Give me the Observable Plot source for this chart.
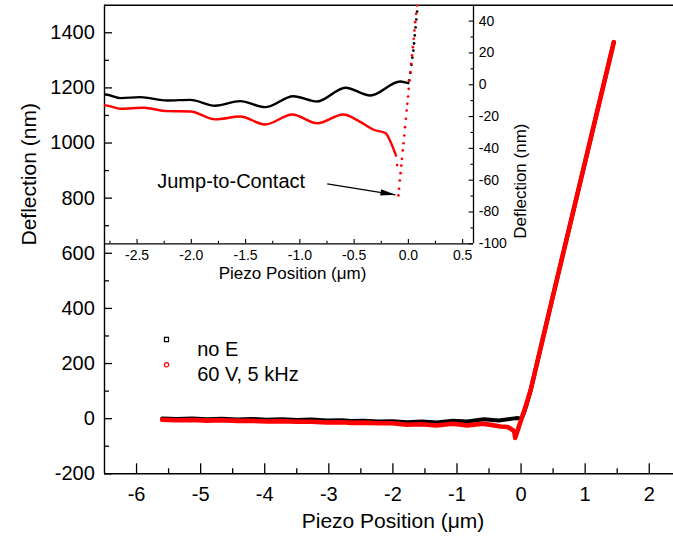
<!DOCTYPE html>
<html>
<head>
<meta charset="utf-8">
<script src="https://cdn.jsdelivr.net/npm/d3@7"></script>
<script src="https://cdn.jsdelivr.net/npm/@observablehq/plot@0.6"></script>
<style>
  html, body { margin: 0; padding: 0; background: #fff; }
  #chart { position: relative; width: 673px; height: 546px; }
  #chart svg { position: absolute; left: 0; top: 0; }
</style>
</head>
<body>
<div id="chart"></div>
<script>
// Force curves: cantilever deflection (nm) vs piezo position (µm)

// "no E" — approach branch
const blackApproachX = [-5.6, -5.37, -5.13, -4.9, -4.67, -4.43, -4.2, -3.97, -3.73, -3.5, -3.27, -3.03,
  -2.79, -2.65, -2.47, -2.22, -2.01, -1.78, -1.55, -1.32, -1.06, -0.84, -0.58, -0.35, -0.076, 0];
const blackApproachY = [1, -1, 1, -2, 0, -3, -1, -4, -2, -5, -3, -7,
  -6.1, -8.4, -7.8, -9.9, -9.5, -13.2, -10.3, -14.1, -7.2, -10.5, -1.9, -6.8, 2.0, 1.0];
// "no E" — contact branch
const blackContactX = [0.006, 0.017, 0.028, 0.037, 0.046, 0.052, 0.059, 0.066, 0.073, 0.080, 0.15, 0.487, 1.447];
const blackContactY = [2.7, 7.5, 12.5, 17, 21.5, 26, 31, 36, 41, 46, 104, 435, 1366];

// "60 V, 5 kHz" — approach branch
const redApproachX = [-5.6, -5.37, -5.13, -4.9, -4.67, -4.43, -4.2, -3.97, -3.73, -3.5, -3.27, -3.03,
  -2.79, -2.65, -2.44, -2.22, -2.01, -1.78, -1.55, -1.32, -1.07, -0.84, -0.60, -0.44, -0.32, -0.21, -0.17, -0.12];
const redApproachY = [-4, -6, -5, -7, -6, -8, -8, -10, -9, -11, -11, -14,
  -13, -15.1, -14.5, -16.6, -16.8, -21.8, -20, -25, -18.7, -24.2, -18.7, -23.5, -28.3, -30.4, -35, -43.4];
// "60 V, 5 kHz" — jump-to-contact samples
const redJumpX = [-0.114, -0.104];
const redJumpY = [-44.5, -50.5];
// "60 V, 5 kHz" — contact branch
const redContactX = [-0.092, -0.086, -0.079, -0.072, -0.065, -0.059, -0.052, -0.045, -0.038, -0.031, -0.023,
  -0.016, -0.010, -0.003, 0.003, 0.011, 0.019, 0.026, 0.034, 0.041, 0.049, 0.056, 0.063, 0.071, 0.079,
  0.15, 0.487, 1.447];
const redContactY = [-69.6, -65.4, -60.2, -55.6, -50.8, -46.6, -41.3, -36.8, -31.9, -26.7, -21.4,
  -16.2, -12.0, -7.4, -2.6, 2.7, 7.9, 13.2, 18.4, 23.6, 28.9, 34.1, 39.3, 44.6, 49.8,
  104, 435, 1366];

// Tick values
const xMajor = [-6, -5, -4, -3, -2, -1, 0, 1, 2];
const xMinor = [-5.5, -4.5, -3.5, -2.5, -1.5, -0.5, 0.5, 1.5];
const yMajor = [-200, 0, 200, 400, 600, 800, 1000, 1200, 1400];
const yMinor = [-100, 100, 300, 500, 700, 900, 1100, 1300];
const insetXMajor = [-2.5, -2.0, -1.5, -1.0, -0.5, 0.0, 0.5];
const insetXMinor = [-2.75, -2.25, -1.75, -1.25, -0.75, -0.25, 0.25];
const insetYMajor = [-100, -80, -60, -40, -20, 0, 20, 40];
const insetYMinor = [-90, -70, -50, -30, -10, 10, 30];

const seriesNames = ["no E", "60 V, 5 kHz"];
const seriesColors = ["#000000", "#ff0000"];

const pts = (xs, ys) => xs.map((x, i) => ({x, y: ys[i]}));
const blackApproach = pts(blackApproachX, blackApproachY);
const blackContact = pts(blackContactX, blackContactY);
const redApproach = pts(redApproachX, redApproachY);
const redJump = pts(redJumpX, redJumpY);
const redContact = pts(redContactX, redContactY);

const blackFull = blackApproach.concat(blackContact);
const redFull = redApproach.concat(redJump, redContact);

const font = "'Liberation Sans', Arial, Helvetica, sans-serif";
const W = 673, H = 546;

// Main frame
const mL = 104, mR = 0, mT = 4.7, mB = 72.7;
const fW = W - mL - mR, fH = H - mT - mB;

const lineStyle = {strokeLinejoin: "round", strokeLinecap: "round"};

const main = Plot.plot({
  width: W, height: H,
  marginLeft: mL, marginRight: mR, marginTop: mT, marginBottom: mB,
  x: {domain: [-6.5, 2.5], range: [104, 680.8], axis: null},
  y: {domain: [-200, 1500], range: [H - mB, mT], axis: null},
  style: {fontFamily: font, background: "transparent", overflow: "visible"},
  marks: [
    Plot.line(blackFull, {x: "x", y: "y", stroke: seriesColors[0], strokeWidth: 4, ...lineStyle}),
    Plot.line(redFull, {x: "x", y: "y", stroke: seriesColors[1], strokeWidth: 4.6, ...lineStyle}),

    // frame
    Plot.ruleY([-200], {strokeWidth: 1.4}),
    Plot.ruleY([1500], {strokeWidth: 1.4}),
    Plot.ruleX([-6.5], {strokeWidth: 1.4}),

    // ticks (inward)
    Plot.tickX(xMajor, {x: d => d, insetTop: fH - 10, strokeWidth: 1.3}),
    Plot.tickX(xMinor, {x: d => d, insetTop: fH - 5, strokeWidth: 1.3}),
    Plot.tickY(yMajor, {y: d => d, insetRight: fW - 8, strokeWidth: 1.3}),
    Plot.tickY(yMinor, {y: d => d, insetRight: fW - 5, strokeWidth: 1.3}),

    // tick labels
    Plot.text(xMajor, {x: d => d, y: -200, dy: 21.2, text: d => String(d), fontSize: 20, fill: "black"}),
    Plot.text(yMajor, {x: -6.5, y: d => d, dx: -9.7, textAnchor: "end", text: d => String(d), fontSize: 20, fill: "black"}),

    // axis titles
    Plot.text(["Piezo Position (μm)"], {frameAnchor: "bottom", dx: 4, dy: 54, text: d => d, fontSize: 21, fill: "black"}),
    Plot.text(["Deflection (nm)"], {frameAnchor: "left", dx: -75, dy: 6, rotate: -90, text: d => d, fontSize: 21, fill: "black"}),

    // legend
    Plot.dot([seriesNames[0]], {frameAnchor: "top-left", dx: 62, dy: 334.3, symbol: "square", r: 2.3, stroke: seriesColors[0], fill: "none", strokeWidth: 1.2}),
    Plot.dot([seriesNames[1]], {frameAnchor: "top-left", dx: 62, dy: 359.6, symbol: "circle", r: 2.2, stroke: seriesColors[1], fill: "none", strokeWidth: 1.2}),
    Plot.text([seriesNames[0]], {frameAnchor: "top-left", dx: 92.7, dy: 336.2, textAnchor: "start", text: d => d, fontSize: 20, fill: "black"}),
    Plot.text([seriesNames[1]], {frameAnchor: "top-left", dx: 92.7, dy: 361.2, textAnchor: "start", text: d => d, fontSize: 20, fill: "black"})
  ]
});

// Inset: close-up of the contact region
const iL = 104, iR = 200, iT = 4.7, iB = 302.7;
const iW = W - iL - iR, iH = H - iT - iB;

// filled arrow head, tip at the origin, pointing along +x
const arrowHead = {
  draw(context) {
    context.moveTo(0, 0);
    context.lineTo(-15, -3.2);
    context.lineTo(-15, 3.2);
    context.closePath();
  }
};
const jumpArrow = [{x1: -0.748, y1: -62.3, x2: -0.119, y2: -69.2}];

const inset = Plot.plot({
  width: W, height: H,
  marginLeft: iL, marginRight: iR, marginTop: iT, marginBottom: iB,
  x: {domain: [-2.8, 0.6], axis: null},
  y: {domain: [-100, 50], axis: null},
  style: {fontFamily: font, background: "transparent", overflow: "visible"},
  marks: [
    Plot.line(blackApproach, {x: "x", y: "y", stroke: seriesColors[0], strokeWidth: 2.4, curve: "monotone-x", clip: true, ...lineStyle}),
    Plot.line(redApproach, {x: "x", y: "y", stroke: seriesColors[1], strokeWidth: 2.4, curve: "monotone-x", clip: true, ...lineStyle}),
    Plot.dot(blackContact, {x: "x", y: "y", r: 1.35, fill: seriesColors[0], clip: true}),
    Plot.dot(redJump.concat(redContact), {x: "x", y: "y", r: 1.35, fill: seriesColors[1], clip: true}),

    // frame
    Plot.ruleY([-100], {strokeWidth: 1.3}),
    Plot.ruleX([0.6], {strokeWidth: 1.3}),

    // ticks (inward)
    Plot.tickX(insetXMajor, {x: d => d, insetTop: iH - 4.3, strokeWidth: 1.1}),
    Plot.tickX(insetXMinor, {x: d => d, insetTop: iH - 2.5, strokeWidth: 1.1}),
    Plot.tickY(insetYMajor, {y: d => d, insetLeft: iW - 4.3, strokeWidth: 1.1}),
    Plot.tickY(insetYMinor, {y: d => d, insetLeft: iW - 2.5, strokeWidth: 1.1}),

    // tick labels
    Plot.text(insetXMajor, {x: d => d, y: -100, dy: 11.4, text: d => d.toFixed(1), fontSize: 14, fill: "black"}),
    Plot.text(insetYMajor, {x: 0.6, y: d => d, dx: 5.3, textAnchor: "start", text: d => String(d), fontSize: 14, fill: "black"}),

    // axis titles
    Plot.text(["Piezo Position (μm)"], {frameAnchor: "bottom", dx: 3.5, dy: 35.6, text: d => d, fontSize: 17, fill: "black"}),
    Plot.text(["Deflection (nm)"], {frameAnchor: "right", dx: 47, dy: -1, rotate: -90, text: d => d, fontSize: 17, fill: "black"}),

    // annotation
    Plot.text(["Jump-to-Contact"], {x: -2.314, y: -61.2, textAnchor: "start", text: d => d, fontSize: 20, fill: "black"}),
    Plot.link(jumpArrow, {x1: "x1", y1: "y1", x2: "x2", y2: "y2", stroke: "black", strokeWidth: 1.2}),
    Plot.dot(jumpArrow, {x: "x2", y: "y2", symbol: arrowHead, r: 5, rotate: 9, fill: "black", stroke: "none"})
  ]
});

const chart = document.getElementById("chart");
chart.appendChild(main);
chart.appendChild(inset);
</script>
</body>
</html>
